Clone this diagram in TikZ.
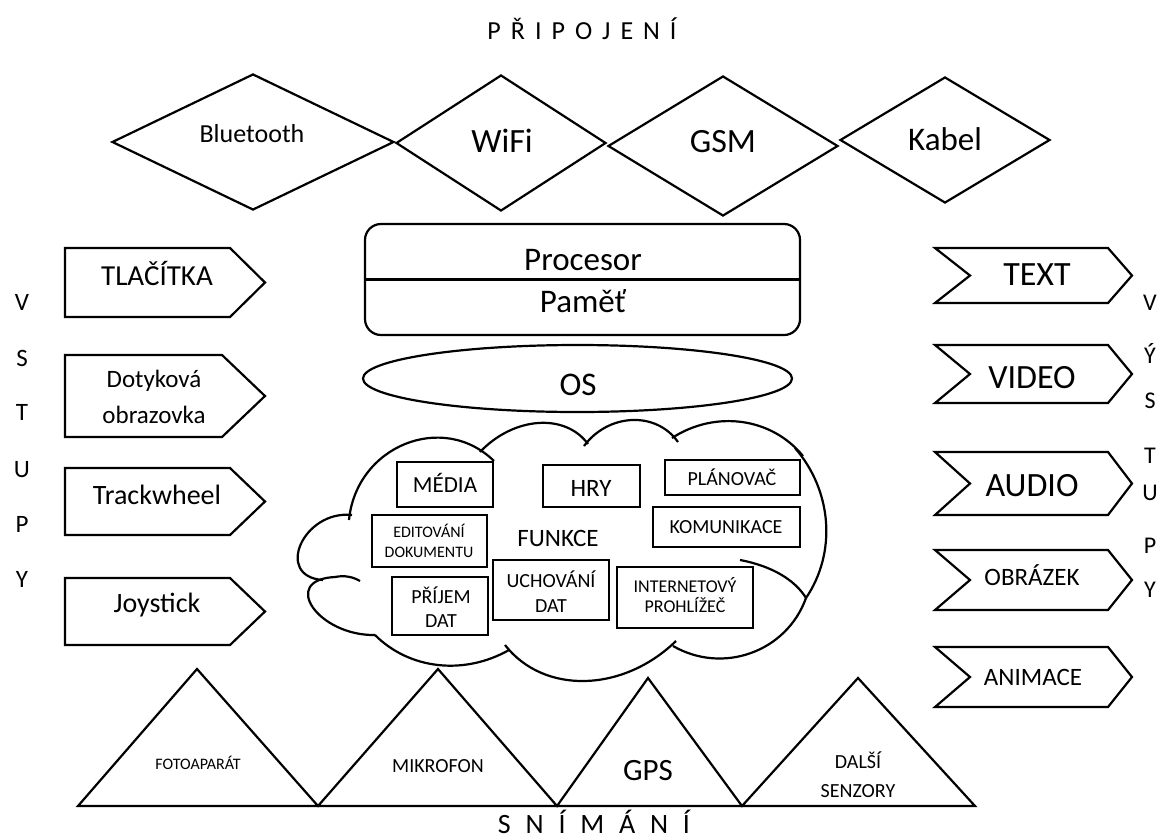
\documentclass[tikz,border=0pt]{standalone}
\usepackage{fontspec}
\setmainfont{Carlito}
\usetikzlibrary{calc,shapes.geometric}
\newcommand\fsz[1]{\fontsize{#1}{#1}\selectfont}
\newcommand\fml[2]{\fontsize{#1}{#2}\selectfont}
% cloud bump: start, end, mid point of the curve, shape coefficients a, b
\newcommand\cbump[5]{\draw[shp] (#1) .. controls ($#4*(#1)+1.333*(#3)-#5*(#2)$) and ($#4*(#2)+1.333*(#3)-#5*(#1)$) .. (#2);}
\begin{document}
\begin{tikzpicture}[x=1pt,y=-1pt,
  shp/.style={draw=black, line width=2.2pt, line join=miter},
  lbl/.style={inner sep=0pt, anchor=base, text=black},
  mlbl/.style={inner sep=0pt, anchor=base, text=black, align=center},
  cbox/.style={draw=black, line width=2.2pt, inner sep=0pt},
]
\useasboundingbox (0,0) rectangle (1164,838);

% ---------- title ----------
\node[lbl, font=\fsz{26}] (tpripojeni) at (582,39) {\spaceskip=10pt P Ř I P O J E N Í};

% ---------- connections (diamonds) ----------
\node[diamond, shp, minimum width=282pt, minimum height=136pt, inner sep=0pt] (bt) at (253,142) {};
\node[diamond, shp, minimum width=210pt, minimum height=136pt, inner sep=0pt] (wifi) at (501,143) {};
\node[diamond, shp, minimum width=230pt, minimum height=140pt, inner sep=0pt] (gsm) at (723,146) {};
\node[diamond, shp, minimum width=210pt, minimum height=126pt, inner sep=0pt] (kabel) at (945,140) {};
\node[lbl, font=\fsz{26}] (tbt) at (252,142) {Bluetooth};
\node[lbl, font=\fsz{34}] (twifi) at (502,152) {WiFi};
\node[lbl, font=\fsz{34}] (tgsm) at (723,152) {GSM};
\node[lbl, font=\fsz{33}] (tkabel) at (945,150) {Kabel};

% ---------- processor / memory ----------
\node[shp, rounded corners=16pt, minimum width=435pt, minimum height=111pt, inner sep=0pt] (cpu) at (582.5,279.5) {};
\draw[shp] (cpu.west) -- (cpu.east);
\node[lbl, font=\fsz{33}] (tproc) at (583,270) {Procesor};
\node[lbl, font=\fsz{33}] (tmem) at (583,312) {Paměť};

% ---------- OS ----------
\node[ellipse, shp, minimum width=429pt, minimum height=67pt, inner sep=0pt] (os) at (577.5,378.5) {};
\node[lbl, font=\fsz{33}] (tos) at (578,395) {OS};

% ---------- inputs ----------
\draw[shp] (65,248) -- (230,248) -- (265,282.5) -- (230,317) -- (65,317) -- cycle;
\draw[shp] (65,355) -- (222,355) -- (265,396) -- (222,437) -- (65,437) -- cycle;
\draw[shp] (65,468) -- (230,468) -- (265,501.5) -- (230,535) -- (65,535) -- cycle;
\draw[shp] (65,578) -- (230,578) -- (265,611.5) -- (230,645) -- (65,645) -- cycle;
\node[lbl, font=\fsz{29}] (ttlac) at (157,285) {TLAČÍTKA};
\node[mlbl, font=\fml{25}{36}] (tdot) at (154,423) {Dotyková\\obrazovka};
\node[lbl, font=\fsz{28}] (ttrack) at (157,504) {Trackwheel};
\node[lbl, font=\fsz{28}] (tjoy) at (157,612) {Joystick};

\node[lbl, font=\fsz{25}] (lv) at (22,310) {V};
\node[lbl, font=\fsz{25}] (ls) at (22,366) {S};
\node[lbl, font=\fsz{25}] (lt) at (22,420) {T};
\node[lbl, font=\fsz{25}] (lu) at (22,477) {U};
\node[lbl, font=\fsz{25}] (lp) at (22,532) {P};
\node[lbl, font=\fsz{25}] (ly) at (22,587) {Y};

% ---------- outputs ----------
\draw[shp] (935,248) -- (1108,248) -- (1132,275.5) -- (1108,303) -- (935,303) -- (970,275.5) -- cycle;
\draw[shp] (935,345) -- (1108,345) -- (1132,374) -- (1108,403) -- (935,403) -- (970,374) -- cycle;
\draw[shp] (935,452) -- (1108,452) -- (1132,483.5) -- (1108,515) -- (935,515) -- (970,483.5) -- cycle;
\draw[shp] (935,550) -- (1108,550) -- (1132,580) -- (1108,610) -- (935,610) -- (970,580) -- cycle;
\draw[shp] (935,647) -- (1108,647) -- (1132,677) -- (1108,707) -- (935,707) -- (970,677) -- cycle;
\node[lbl, font=\fsz{34}] (ttext) at (1037,285) {TEXT};
\node[lbl, font=\fsz{34}] (tvideo) at (1032,388) {VIDEO};
\node[lbl, font=\fsz{34}] (taudio) at (1032,496) {AUDIO};
\node[lbl, font=\fsz{25}] (tobr) at (1032,585) {OBRÁZEK};
\node[lbl, font=\fsz{25}] (tanim) at (1033,685) {ANIMACE};

\node[lbl, font=\fsz{24}] (rv) at (1150,310) {V};
\node[lbl, font=\fsz{24}] (ry) at (1150,363) {Ý};
\node[lbl, font=\fsz{24}] (rs) at (1150,408) {S};
\node[lbl, font=\fsz{24}] (rt) at (1150,463) {T};
\node[lbl, font=\fsz{24}] (ru) at (1150,500) {U};
\node[lbl, font=\fsz{24}] (rp) at (1150,553) {P};
\node[lbl, font=\fsz{24}] (ryy) at (1150,597) {Y};

% ---------- cloud ----------
\cbump{375,635}{335,577}{312,606}{0.32}{0.65}
\draw[shp] (335,577) .. controls (345,575) and (353,577) .. (360,581);
\cbump{323,580}{352,515}{300,543}{0.35}{0.68}
\cbump{349,520}{494,461}{405,444}{0.132}{0.465}
\cbump{480,452}{588,444}{538,423}{0.071}{0.404}
\cbump{584,446}{678,442}{632,420}{0.087}{0.42}
\cbump{672,438}{803,456}{742,422}{0.048}{0.381}
\cbump{795,448}{806,598}{826,522}{0.039}{0.372}
\draw[shp] (740,560) .. controls (772,566) and (795,580) .. (806,598);
\cbump{806,598}{673,646}{751,653}{0.073}{0.406}
\cbump{676,641}{505,645}{585,681}{0.065}{0.398}
\cbump{509,650}{375,635}{438,665}{0.037}{0.37}

\node[cbox, minimum width=96pt, minimum height=45pt] (bmedia) at (445,484.5) {};
\node[cbox, minimum width=97pt, minimum height=42pt] (bhry) at (591.5,486) {};
\node[cbox, minimum width=135pt, minimum height=35pt] (bplan) at (732.5,477.5) {};
\node[cbox, minimum width=147pt, minimum height=40pt] (bkom) at (726.5,527) {};
\node[cbox, minimum width=115pt, minimum height=52pt] (bedit) at (429.5,541) {};
\node[cbox, minimum width=96pt, minimum height=58pt] (bprij) at (440,606) {};
\node[cbox, minimum width=116pt, minimum height=60pt] (buch) at (551,590) {};
\node[cbox, minimum width=136pt, minimum height=61pt] (binet) at (685,597.5) {};

\node[lbl, font=\fsz{23}] (tmedia) at (445,492) {MÉDIA};
\node[lbl, font=\fsz{25}] (thry) at (591,496) {HRY};
\node[lbl, font=\fsz{20}] (tplan) at (732,485) {PLÁNOVAČ};
\node[lbl, font=\fsz{20}] (tkom) at (726,533) {KOMUNIKACE};
\node[mlbl, font=\fml{16}{20}] (tedit) at (429,557) {EDITOVÁNÍ\\DOKUMENTU};
\node[lbl, font=\fsz{25}] (tfunk) at (558,546) {FUNKCE};
\node[mlbl, font=\fml{20}{24}] (tprij) at (441,627) {PŘÍJEM\\DAT};
\node[mlbl, font=\fml{20}{25}] (tuch) at (551,612) {UCHOVÁNÍ\\DAT};
\node[mlbl, font=\fml{18}{20}] (tinet) at (685,612) {INTERNETOVÝ\\PROHLÍŽEČ};

% ---------- sensors (triangles) ----------
\draw[shp] (78,806) -- (197,669) -- (318,806) -- (438,669) -- (557,806) -- (648,678) -- (742,806) -- (858,678) -- (975,806) -- cycle;
\node[lbl, font=\fsz{16}] (tfoto) at (198,769) {FOTOAPARÁT};
\node[lbl, font=\fsz{20}] (tmikro) at (438,772) {MIKROFON};
\node[lbl, font=\fsz{31}] (tgps) at (648,780) {GPS};
\node[mlbl, font=\fml{20}{29}] (tdalsi) at (858,797) {DALŠÍ\\SENZORY};

\node[lbl, font=\fsz{28}] (tsnimani) at (594,833) {\spaceskip=14.8pt S N Í M Á N Í};
\end{tikzpicture}
\end{document}
